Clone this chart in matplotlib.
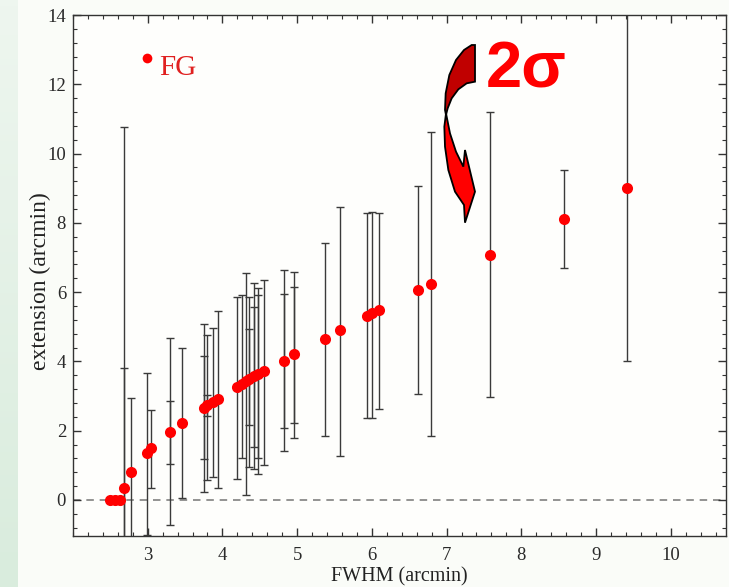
import numpy as np
import matplotlib
matplotlib.use("Agg")
import matplotlib.pyplot as plt
from matplotlib.patches import Polygon
from matplotlib.ticker import MultipleLocator

# valeurs
fwhm = [2.49, 2.56, 2.63, 2.68, 2.78, 2.99, 3.05, 3.30, 3.46, 3.76, 3.80, 3.87, 3.94,
        4.20, 4.26, 4.31, 4.36, 4.42, 4.48, 4.55, 4.82, 4.96, 5.37, 5.57, 5.94, 6.00,
        6.09, 6.62, 6.79, 7.58, 8.57, 9.41]
ext = [0, 0, 0, 0.36, 0.80, 1.35, 1.49, 1.97, 2.23, 2.65, 2.73, 2.83, 2.92,
       3.26, 3.36, 3.43, 3.50, 3.57, 3.63, 3.71, 4.02, 4.21, 4.65, 4.90, 5.32, 5.39,
       5.48, 6.06, 6.24, 7.07, 8.12, 9.02]
ext_lo = [np.nan, np.nan, np.nan, -1.6, -1.6, -1.01, 0.36, -0.72, 0.05, 0.24, 0.58, 0.67, 0.34,
          0.61, 1.20, 0.14, 0.96, 0.89, 0.75, 1.01, 1.42, 1.80, 1.86, 1.28, 2.38, 2.38,
          2.62, 3.05, 1.86, 2.98, 6.71, 4.01]
ext_hi = [np.nan, np.nan, np.nan, 10.76, 2.94, 3.67, 2.60, 4.67, 4.38, 5.07, 4.76, 4.97, 5.46,
          5.87, 5.92, 6.56, 5.87, 6.26, 6.11, 6.35, 6.64, 6.57, 7.43, 8.45, 8.28, 8.30,
          8.29, 9.05, 10.61, 11.19, 9.53, 15.0]

# barres internes (caps supplementaires)
in_x = [2.68, 3.30, 3.76, 3.80, 4.36, 4.42, 4.48, 4.82, 4.96]
in_y = [0.36, 1.97, 2.65, 2.73, 3.50, 3.57, 3.63, 4.02, 4.21]
in_lo = [-1.6, 1.03, 1.18, 2.41, 2.17, 1.54, 1.20, 2.09, 2.21]
in_hi = [3.80, 2.86, 4.17, 3.03, 4.95, 5.58, 5.92, 5.95, 6.16]

fg_x, fg_y = 2.99, 12.76

W, H = 729, 587
fig = plt.figure(figsize=(W / 100, H / 100), dpi=100, facecolor='#fafcf8')

# bande verte a gauche
bg = fig.add_axes([0, 0, 18 / W, 1])
grad = np.linspace(0, 1, 100).reshape(-1, 1)
bg.imshow(grad, aspect='auto', cmap=matplotlib.colors.LinearSegmentedColormap.from_list(
    'g', ['#eef6ef', '#d9ecdd']), origin='upper')
bg.axis('off')

ax = fig.add_axes([73 / W, (H - 536) / H, (726 - 73) / W, (536 - 15) / H])
ax.set_facecolor('#fefefc')

ax.axhline(0, color='#808080', lw=1.2, ls=(0, (4.5, 3.5)), zorder=1)

x = np.array(fwhm); y = np.array(ext)
lo = np.array(ext_lo); hi = np.array(ext_hi)
m = ~np.isnan(lo)
ax.errorbar(x[m], y[m], yerr=[y[m] - lo[m], hi[m] - y[m]], fmt='none',
            ecolor='#3a3a3a', elinewidth=1.0, capsize=2.6, capthick=1.0, zorder=2)
ix = np.array(in_x); iy = np.array(in_y)
ax.errorbar(ix, iy, yerr=[iy - np.array(in_lo), np.array(in_hi) - iy], fmt='none',
            ecolor='#3a3a3a', elinewidth=1.0, capsize=2.6, capthick=1.0, zorder=2)
ax.plot(x, y, 'o', color='#ff0000', ms=8, mec='none', zorder=3)

ax.plot([fg_x], [fg_y], 'o', color='#ff0000', ms=7, mec='none', clip_on=False)
ax.text(3.15, 12.47, 'FG', color='#e02020', fontsize=21, family='Liberation Serif',
        va='center', ha='left')

ax.set_xlim(2.0, 10.74)
ax.set_ylim(-1.04, 14)
ax.xaxis.set_major_locator(MultipleLocator(1))
ax.xaxis.set_minor_locator(MultipleLocator(0.2))
ax.yaxis.set_major_locator(MultipleLocator(2))
ax.yaxis.set_minor_locator(MultipleLocator(0.4))
ax.tick_params(which='both', direction='in', top=True, right=True, color='#333333')
ax.tick_params(which='major', length=6, width=1)
ax.tick_params(which='minor', length=3, width=0.8)
ax.tick_params(axis='x', which='major', pad=8)
ax.tick_params(axis='y', which='major', pad=5)
ax.set_xticks([3, 4, 5, 6, 7, 8, 9, 10])
for lab in ax.get_xticklabels() + ax.get_yticklabels():
    lab.set_family('Liberation Serif')
    lab.set_fontsize(13.5)
    lab.set_color('#2a2a2a')
for s in ax.spines.values():
    s.set_color('#333333')
    s.set_linewidth(1.0)

ax.set_xlabel('FWHM (arcmin)', family='Liberation Serif', fontsize=14.5, color='#222222')
ax.set_ylabel('extension (arcmin)', family='Liberation Serif', fontsize=17, color='#222222')
ax.xaxis.set_label_coords(0.5, -0.06)
ax.yaxis.set_label_coords(-0.033, 0.49)

# fleche courbe + 2 sigma
def fp(zx, zy):
    return ((400 + zx / 3) / W, 1 - (zy / 3) / H)

dark = [(215, 135), (225, 135), (225, 245), (200, 250), (175, 268), (155, 295), (143, 325),
        (138, 345), (135, 330), (137, 280), (148, 225), (168, 180), (192, 150)]
bright = [(138, 340), (150, 400), (168, 455), (190, 500), (195, 450), (225, 575), (195, 668),
          (192, 615), (165, 575), (145, 510), (135, 440), (133, 380)]
fig.patches.append(Polygon([fp(*p) for p in bright], closed=True, transform=fig.transFigure,
                           facecolor='#ff0000', edgecolor='black', lw=1.3))
fig.patches.append(Polygon([fp(*p) for p in dark], closed=True, transform=fig.transFigure,
                           facecolor='#c00000', edgecolor='black', lw=1.3))
fig.text(486 / W, 1 - 88 / H, '2σ', fontsize=47, weight='bold', family='Liberation Sans',
         color='#ff0000', va='baseline', ha='left')

fig.savefig('out.png', dpi=100, facecolor=fig.get_facecolor())
